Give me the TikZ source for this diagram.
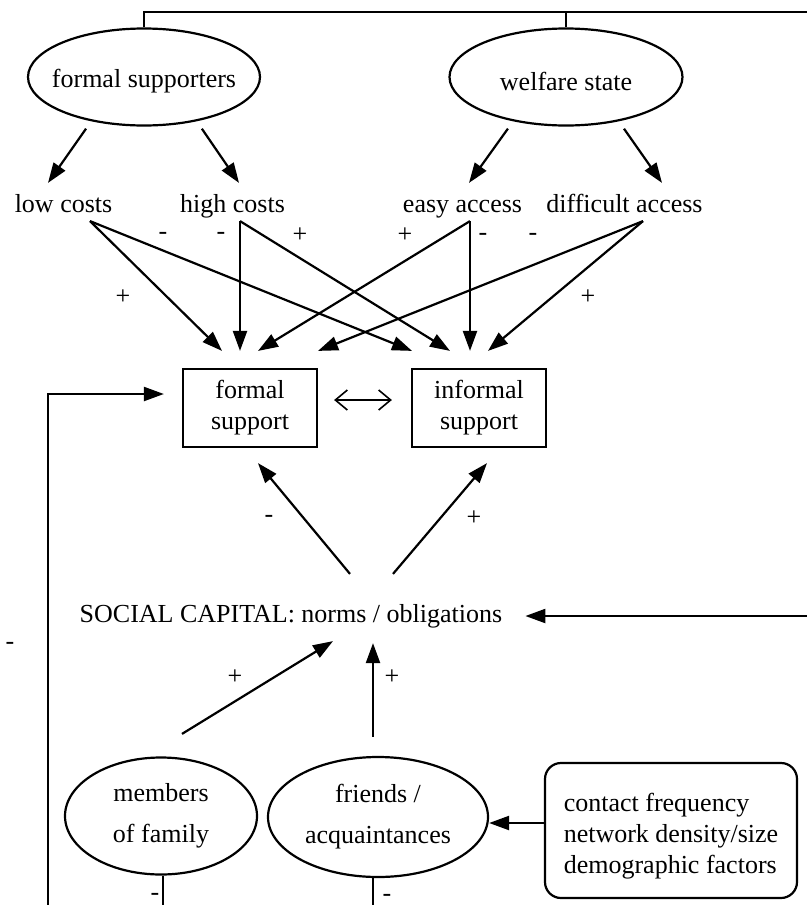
\documentclass[tikz,border=0pt]{standalone}
\usepackage{fontspec}
\setmainfont{Liberation Serif}
\usetikzlibrary{arrows.meta,shapes.geometric}

\begin{document}
\begin{tikzpicture}[x=0.5pt,y=-0.5pt,line width=1.1pt,
		font=\fontsize{13}{15.5}\selectfont,
		every node/.style={inner sep=1pt},
		oval/.style={draw,ellipse,inner sep=0pt},
		inlabel/.style={label={[align=center,font=\fontsize{13}{20.5}\selectfont]center:#1}},
		box/.style={draw,minimum width=67pt,minimum height=39pt,align=center,inner sep=0pt},
		word/.style={anchor=base,text height=9pt,text depth=3pt},
		arr/.style={-{Triangle[length=10pt,width=7pt]}}]
		\useasboundingbox (0,0) rectangle (807,905);
		% sources
		\node[oval,minimum width=116pt,minimum height=48.5pt,label={[yshift=-2pt]center:formal supporters}] (fs) at (144,77) {};
		\node[oval,minimum width=116.5pt,minimum height=48.5pt,label={[yshift=-2pt]center:welfare state}] (ws) at (566,77) {};
		\node[word] (lc) at (63.5,212) {low costs};
		\node[word] (hc) at (232.5,212) {high costs};
		\node[word] (ea) at (462.5,212) {easy access};
		\node[word] (da) at (624.5,212) {difficult access};
		% support
		\node[box] (fsup) at (250,408) {formal\\support};
		\node[box] (isup) at (479,408) {informal\\support};
		\node[word] (sc) at (291,622) {SOCIAL CAPITAL: norms / obligations};
		% networks
		\node[oval,minimum width=96pt,minimum height=58.5pt,inlabel={members\\of family}] (mf) at (161,816) {};
		\node[oval,minimum width=110pt,minimum height=60pt,inlabel={friends /\\acquaintances}] (fa) at (378,817) {};
		\node[draw,rounded corners=8pt,minimum width=126pt,minimum height=67.5pt,align=left] (cf) at (671,830.5) {\rule{0pt}{15pt}contact frequency\\network density/size\\demographic factors};
		\coordinate (rtop) at (807,12);
		\coordinate (rmid) at (807,616);
		\coordinate (lbot) at (48,905);
		\coordinate (cfin) at ([yshift=3.75pt]cf.west);
		% top frame
		\draw (fs.north) |- (rtop);
		\draw (ws.north) -- (ws.north |- rtop);
		\draw[arr,shorten <=4.5pt] (fs.220) -- ([xshift=-7.75pt,yshift=4pt]lc.north);
		\draw[arr,shorten <=4.5pt] (fs.320) -- ([xshift=3.25pt,yshift=4pt]hc.north);
		\draw[arr,shorten <=4.5pt] (ws.220) -- ([xshift=3.25pt,yshift=4pt]ea.north);
		\draw[arr,shorten <=4.5pt] (ws.320) -- ([xshift=18.75pt,yshift=4pt]da.north);
		% costs and access
		\draw[arr] ([xshift=13.25pt]lc.south) -- ([xshift=-14pt,yshift=8.5pt]fsup.north);
		\draw[arr] ([xshift=13.25pt]lc.south) -- ([xshift=-33.5pt,yshift=8.5pt]isup.north);
		\draw[arr] ([xshift=3.75pt]hc.south) -- ([xshift=-5pt,yshift=8.5pt]fsup.north);
		\draw[arr] ([xshift=3.75pt]hc.south) -- ([xshift=-14.5pt,yshift=8.5pt]isup.north);
		\draw[arr] ([xshift=3.75pt]ea.south) -- ([xshift=4pt,yshift=8.5pt]fsup.north);
		\draw[arr] ([xshift=3.75pt]ea.south) -- ([xshift=-4.5pt,yshift=8.5pt]isup.north);
		\draw[arr] ([xshift=9.25pt]da.south) -- ([xshift=34pt,yshift=8.5pt]fsup.north);
		\draw[arr] ([xshift=9.25pt]da.south) -- ([xshift=4.5pt,yshift=8.5pt]isup.north);
		\draw[{Straight Barb[length=6pt,width=10pt]}-{Straight Barb[length=6pt,width=10pt]},line width=0.8pt,shorten <=8pt,shorten >=9.5pt] ([yshift=4pt]fsup.east) -- ([yshift=4pt]isup.west);
		% social capital
		\draw[arr] ([xshift=29.5pt,yshift=13.5pt]sc.north) -- ([xshift=4pt,yshift=-7.5pt]fsup.south);
		\draw[arr] ([xshift=51pt,yshift=13.5pt]sc.north) -- ([xshift=4pt,yshift=-7.5pt]isup.south);
		\draw[arr,shorten >=10pt] (rmid) -- (sc.east);
		\draw[arr,shorten >=9pt] (lbot) |- ([yshift=7pt]fsup.west);
		\draw[arr] ([xshift=10.5pt,yshift=11.25pt]mf.north) -- ([xshift=21pt,yshift=-5pt]sc.south);
		\draw[arr] ([xshift=-2.5pt,yshift=9.5pt]fa.north) -- ([xshift=41pt,yshift=-6pt]sc.south);
		\draw[arr] (cfin) -- (cfin -| fa.east);
		\draw ([xshift=1pt]mf.south) -- +(0,35);
		\draw ([xshift=-2.5pt]fa.south) -- +(0,35);
		% signs
		\node (m1) at (163,236) {-};
		\node (m2) at (221,236) {-};
		\node (p1) at (300,235) {+};
		\node (p2) at (405,235) {+};
		\node (m3) at (483,237) {-};
		\node (m4) at (533,237) {-};
		\node (p3) at (123,297) {+};
		\node (p4) at (588,297) {+};
		\node (m5) at (269,519) {-};
		\node (p5) at (474,518) {+};
		\node (p6) at (235,677) {+};
		\node (p7) at (392,677) {+};
		\node (m6) at (10,646) {-};
		\node (m7) at (155,897) {-};
		\node (m8) at (387,898) {-};
	\end{tikzpicture}
\end{document}
